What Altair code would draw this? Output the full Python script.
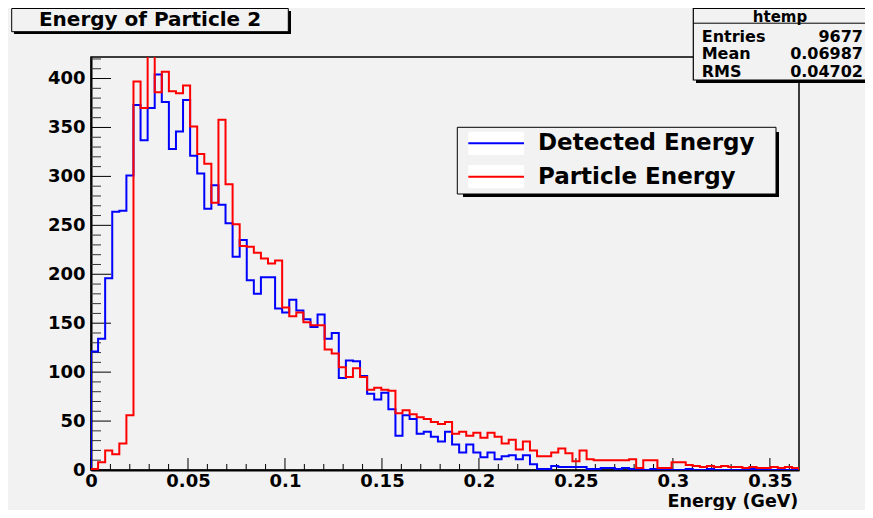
import altair as alt
import pandas as pd

# ---------------- data ----------------
detected = [121, 134, 196, 264, 265, 301, 373, 337, 370, 404,
            376, 328, 346, 378, 321, 303, 267, 291, 271, 252,
            218, 235, 194, 180, 197, 197, 165, 161, 174, 163,
            154, 146, 159, 134, 140, 94, 112, 111, 96, 78,
            72, 79, 62, 35, 56, 52, 37, 39, 34, 29,
            39, 26, 18, 26, 18, 13, 18, 11, 14, 15,
            11, 15, 6, 1, 1, 4, 3, 3, 3, 3,
            1, 1, 2, 2, 1, 2, 1, 1, 0, 1,
            0, 1, 0, 0, 1, 0, 0, 1, 0, 0,
            0, 0, 0, 1, 0, 0, 0, 0, 0, 0]
particle = [1, 8, 20, 16, 27, 56, 397, 370, 440, 386,
            407, 387, 385, 393, 351, 323, 313, 273, 358, 292,
            251, 229, 228, 222, 216, 211, 214, 166, 157, 161,
            151, 148, 148, 123, 119, 105, 95, 104, 95, 82,
            84, 82, 81, 58, 61, 57, 54, 52, 49, 47,
            49, 37, 39, 35, 38, 33, 38, 34, 27, 31,
            21, 29, 20, 14, 14, 18, 22, 17, 9, 20,
            11, 10, 10, 10, 10, 10, 11, 2, 10, 10,
            2, 2, 8, 8, 5, 4, 3, 4, 3, 4,
            3, 3, 2, 3, 2, 2, 3, 2, 3, 2]
x_range = [0.0, 0.365]
y_range = [0, 422]
x_labels = [0, 0.05, 0.1, 0.15, 0.2, 0.25, 0.3, 0.35]
y_labels = [0, 50, 100, 150, 200, 250, 300, 350, 400]
x_minor = [0.01, 0.02, 0.03, 0.04, 0.06, 0.07, 0.08, 0.09, 0.11, 0.12, 0.13, 0.14,
           0.16, 0.17, 0.18, 0.19, 0.21, 0.22, 0.23, 0.24, 0.26, 0.27, 0.28, 0.29,
           0.31, 0.32, 0.33, 0.34, 0.36]
y_minor = [10, 20, 30, 40, 60, 70, 80, 90, 110, 120, 130, 140, 160, 170, 180, 190,
           210, 220, 230, 240, 260, 270, 280, 290, 310, 320, 330, 340, 360, 370,
           380, 390, 410, 420]
stats_names = ["Entries", "Mean", "RMS"]
stats_values = ["9677", "0.06987", "0.04702"]
series_names = ["Detected Energy", "Particle Energy"]

# ---------------- layout ----------------
W, H = 708, 413
FONT = "DejaVu Sans"
BG = "#f2f2f2"

n_bins = len(detected)
bw = (x_range[1] - x_range[0]) / n_bins
edges = [x_range[0] + i * bw for i in range(n_bins + 1)]

xs = alt.Scale(domain=x_range, nice=False, zero=False)
ys = alt.Scale(domain=y_range, nice=False, zero=False)
x_axis = alt.Axis(values=x_labels, format="~g", labelFont=FONT, labelFontWeight="bold",
                  labelFontSize=18, labelColor="black", ticks=False, tickSize=0,
                  domain=True, domainColor="black", domainWidth=2, grid=False,
                  labelPadding=2, labelFlush=False, labelOverlap=False, title=None)
y_axis = alt.Axis(values=y_labels, labelFont=FONT, labelFontWeight="bold",
                  labelFontSize=18, labelColor="black", ticks=False, tickSize=0,
                  domain=True, domainColor="black", domainWidth=2, grid=False,
                  labelPadding=6, labelOverlap=False, title=None)


def outline(vals):
    xv = [edges[0]] + edges
    yv = [0] + list(vals) + [0]
    return pd.DataFrame({"x": xv, "y": yv, "i": list(range(len(xv)))})


def hist(vals, color):
    return alt.Chart(outline(vals)).mark_line(
        interpolate="step-after", clip=True, strokeWidth=2, color=color
    ).encode(
        x=alt.X("x:Q", scale=xs, axis=x_axis),
        y=alt.Y("y:Q", scale=ys, axis=y_axis),
        order="i:Q",
    )


dummy = pd.DataFrame({"d": [0]})


def box(x1, y1, x2, y2, fill, stroke=None, sw=1.0):
    kw = dict(fill=fill)
    if stroke is not None:
        kw.update(stroke=stroke, strokeWidth=sw)
    else:
        kw.update(strokeWidth=0)
    return alt.Chart(dummy).mark_rect(**kw).encode(
        x=alt.value(x1), x2=alt.value(x2), y=alt.value(y1), y2=alt.value(y2))


def line(x1, y1, x2, y2, color="black", sw=1.0):
    return alt.Chart(dummy).mark_rule(color=color, strokeWidth=sw).encode(
        x=alt.value(x1), x2=alt.value(x2), y=alt.value(y1), y2=alt.value(y2))


def text(s, x, y, size, align="left", baseline="middle"):
    return alt.Chart(dummy).mark_text(
        text=s, font=FONT, fontWeight="bold", fontSize=size, color="black",
        align=align, baseline=baseline
    ).encode(x=alt.value(x), y=alt.value(y))


# ticks (inside the frame, ROOT style)
xt_major = alt.Chart(pd.DataFrame({"v": x_labels})).mark_rule(color="black", strokeWidth=1).encode(
    x=alt.X("v:Q", scale=xs, axis=x_axis), y=alt.value(H), y2=alt.value(H - 12))
xt_minor = alt.Chart(pd.DataFrame({"v": x_minor})).mark_rule(color="black", strokeWidth=1).encode(
    x=alt.X("v:Q", scale=xs, axis=x_axis), y=alt.value(H), y2=alt.value(H - 6))
yt_major = alt.Chart(pd.DataFrame({"v": y_labels})).mark_rule(color="black", strokeWidth=1).encode(
    y=alt.Y("v:Q", scale=ys, axis=y_axis), x=alt.value(0), x2=alt.value(20))
yt_minor = alt.Chart(pd.DataFrame({"v": y_minor})).mark_rule(color="#333333", strokeWidth=1).encode(
    y=alt.Y("v:Q", scale=ys, axis=y_axis), x=alt.value(0), x2=alt.value(10))

layers = [xt_minor, xt_major, yt_minor, yt_major,
          hist(detected, "#0000ff"), hist(particle, "#ff0000")]

# title box
layers += [box(-77, -46, 200, -23, "black"),
           box(-79.3, -48.5, 197.3, -25.3, BG, "black", 1),
           text("Energy of Particle 2", 59, -37.3, 20, align="center")]

# stats box
layers += [box(605, -46, 790, 26, "black"),
           box(602.3, -48.5, 790, 23, BG, "black", 1.2),
           line(602.3, -33.8, 790, -33.8),
           text("htemp", 689, -40.2, 15, align="center")]
for k, (nm, vv) in enumerate(zip(stats_names, stats_values)):
    yy = -20.3 + k * 17.5
    layers += [text(nm, 610.7, yy, 16), text(vv, 772, yy, 16, align="right")]

# legend box
layers += [box(372, 75, 688, 140, "black"),
           box(366.3, 70.3, 685, 137, BG, "black", 1)]
leg_colors = ["#0000ff", "#ff0000"]
for k, (nm, col) in enumerate(zip(series_names, leg_colors)):
    yy = 86.3 + k * 33.4
    layers += [box(377.3, yy - 11.6, 433, yy + 11.6, "white"),
               line(377.3, yy, 433, yy, col, 2),
               text(nm, 447, yy, 23)]

# x axis title
layers += [text("Energy (GeV)", 707.3, 445, 17.5, align="right")]

chart = alt.layer(*layers).properties(
    width=W, height=H,
    padding={"left": 83, "top": 49, "right": 66, "bottom": 40},
    autosize=alt.AutoSizeParams(type="none"),
).configure(background=BG).configure_view(fill=BG, stroke="black", strokeWidth=1.5)

chart.save("out.html", embed_options={"renderer": "svg", "actions": False})
